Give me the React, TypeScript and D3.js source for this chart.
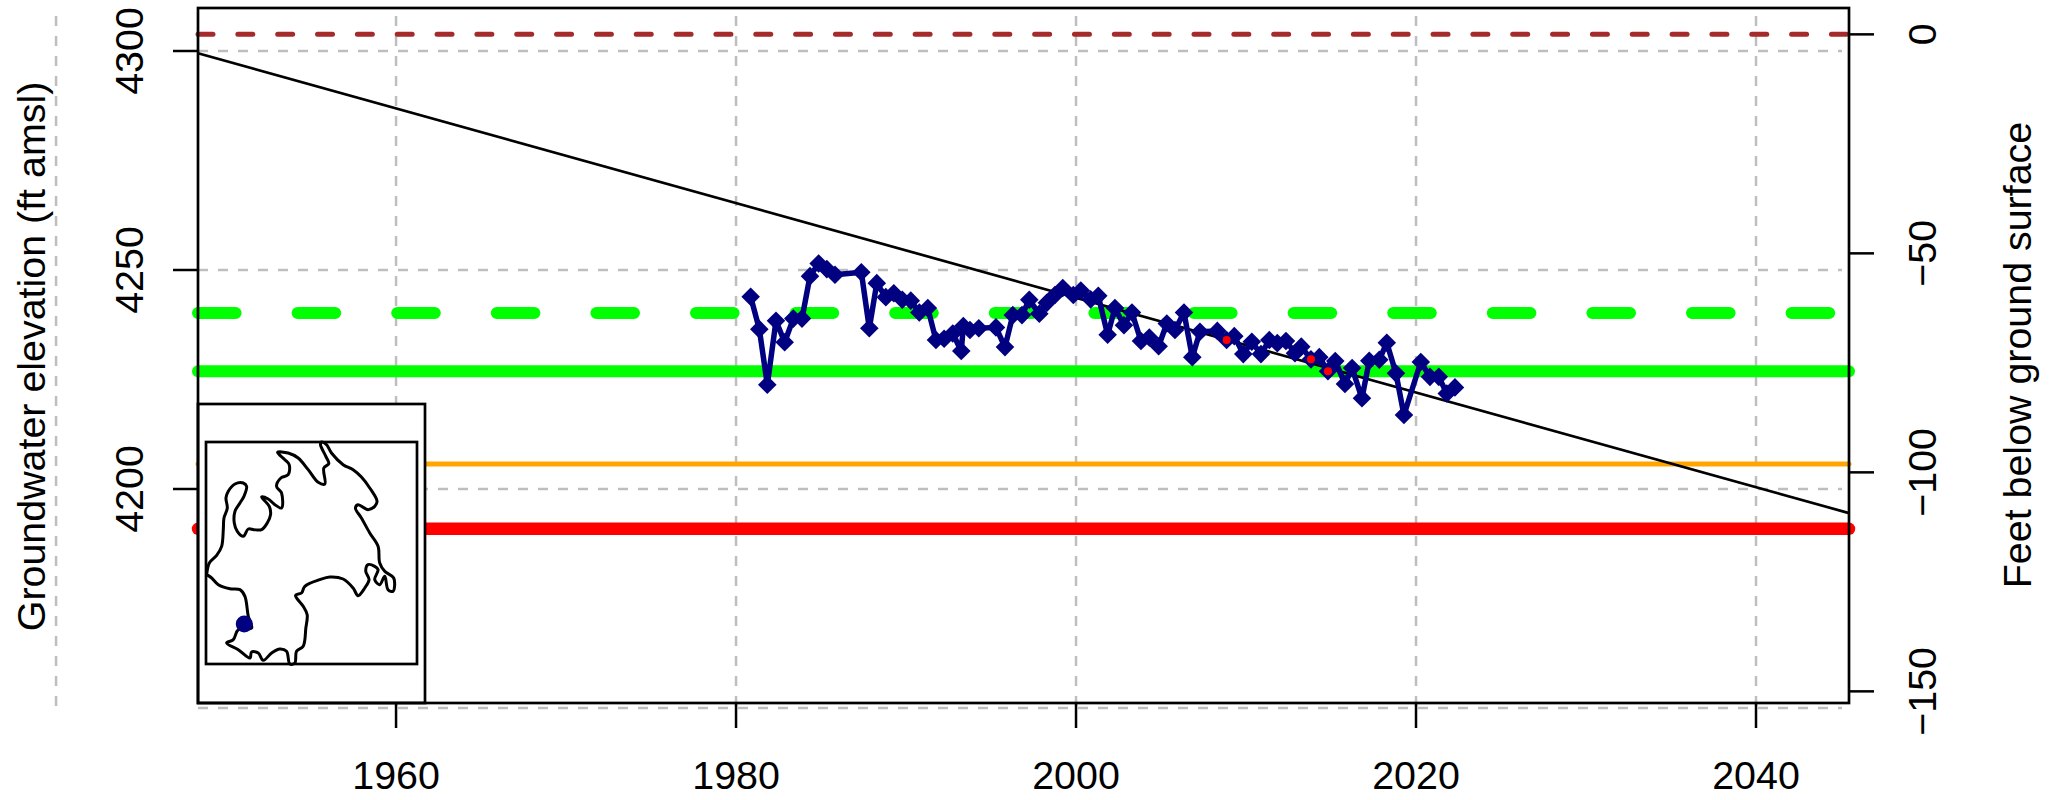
import React, { useEffect, useRef } from 'react';
import * as d3 from 'd3';

const years = [
  1980.86, 1981.37, 1981.84, 1982.35, 1982.86, 1983.37, 1983.88, 1984.35, 1984.86, 1985.34,
  1985.82, 1987.37, 1987.84, 1988.28, 1988.81, 1989.28, 1989.78, 1990.28, 1990.78, 1991.28,
  1991.76, 1992.24, 1992.75, 1993.25, 1993.37, 1993.76, 1994.28, 1995.29, 1995.82, 1996.28,
  1996.82, 1997.25, 1997.84, 1998.28, 1998.76, 1999.22, 1999.84, 2000.28, 2000.86, 2001.31,
  2001.86, 2002.29, 2002.82, 2003.29, 2003.82, 2004.31, 2004.86, 2005.34, 2005.82, 2006.35,
  2006.84, 2007.29, 2008.31, 2008.86, 2009.31, 2009.84, 2010.34, 2010.88, 2011.37, 2011.84,
  2012.35, 2012.88, 2013.25, 2013.82, 2014.31, 2014.82, 2015.25, 2015.82, 2016.24, 2016.82,
  2017.25, 2017.84, 2018.28, 2018.82, 2019.29, 2020.28, 2020.82, 2021.34, 2021.81, 2022.29,
];
const elevations = [
  4243.9, 4236.5, 4223.8, 4238.4, 4233.5, 4238.9, 4238.9, 4248.6, 4251.5, 4250.2,
  4248.9, 4249.5, 4236.7, 4247.0, 4243.8, 4244.7, 4243.2, 4243.0, 4240.3, 4241.3,
  4234.0, 4234.3, 4235.5, 4231.5, 4237.2, 4236.3, 4236.7, 4236.9, 4232.4, 4239.7,
  4239.7, 4243.2, 4240.0, 4242.5, 4244.3, 4245.9, 4244.3, 4245.3, 4243.3, 4244.1,
  4235.2, 4241.3, 4237.4, 4240.3, 4233.8, 4234.6, 4232.6, 4237.8, 4236.3, 4240.3,
  4230.1, 4235.9, 4236.1, 4234.0, 4234.9, 4230.8, 4233.6, 4230.8, 4234.0, 4233.3,
  4233.8, 4231.0, 4232.5, 4229.6, 4230.1, 4226.9, 4229.2, 4224.0, 4227.6, 4220.7,
  4229.3, 4229.5, 4233.4, 4226.4, 4216.9, 4229.0, 4225.6, 4225.6, 4221.8, 4223.2,
];
// points flagged red in the original
const flaggedYears = [2008.86, 2013.82, 2014.82];

const xTicks = [1960, 1980, 2000, 2020, 2040];
const xGrid = [1940, 1960, 1980, 2000, 2020, 2040];
const elevTicks = [4150, 4200, 4250, 4300];
const elevLabels = [4200, 4250, 4300];
const depthTicks = [0, -50, -100, -150];

const landSurface = 4303.8;
const levelRed = 4190.9;
const levelOrange = 4205.7;
const levelGreen = 4226.9;
const levelGreenDash = 4240.2;
const trendYears = [1948.35, 2045.47];
const trendElev = [4299.5, 4194.5];

// inset outline, in map units
const mapOutline: [number, number][] = [
  [80, 555], [88, 520], [110, 497], [125, 470], [130, 420], [132, 385], [142, 355], [138, 325], [145, 305], [165, 283],
  [190, 280], [200, 290], [192, 320], [180, 340], [165, 365], [163, 400], [172, 425], [190, 440], [205, 418], [222, 420],
  [245, 420], [262, 400], [272, 375], [268, 350], [245, 322], [265, 328], [285, 345], [305, 355], [305, 310], [290, 290],
  [303, 265], [325, 255], [328, 225], [315, 210], [293, 188], [325, 190], [355, 205], [385, 240], [415, 278], [435, 283],
  [432, 235], [447, 222], [438, 200], [422, 165], [425, 157], [440, 165], [455, 190], [490, 225], [520, 240], [545, 262],
  [570, 295], [592, 335], [585, 350], [565, 360], [535, 345], [527, 355], [545, 385], [570, 430], [595, 470], [600, 520],
  [615, 545], [642, 565], [640, 605], [625, 600], [615, 560], [600, 585], [585, 570], [595, 540], [585, 530], [565, 525],
  [558, 545], [568, 570], [555, 595], [535, 618], [520, 595], [490, 568], [450, 562], [420, 570], [375, 590], [365, 610],
  [347, 617], [370, 650], [382, 675], [378, 715], [370, 770], [350, 785], [345, 820], [330, 823], [320, 785], [300, 778],
  [275, 790], [250, 812], [235, 790], [215, 787], [210, 805], [175, 780], [140, 760], [160, 750], [175, 720], [215, 715],
  [205, 680], [195, 620], [180, 600], [150, 597], [115, 585], [95, 565], [80, 555],
];
const wellLocation: [number, number] = [193, 703];

const FONT = '"Liberation Sans", Arial, sans-serif';
const FONT_SIZE = 39.4;

export default function App() {
  const ref = useRef<SVGSVGElement>(null);

  useEffect(() => {
    const svg = d3.select(ref.current);
    svg.selectAll('*').remove();

    const left = 198, right = 1849, top = 8, bottom = 703;
    const x = d3.scaleLinear().domain([1948.35, 2045.47]).range([left, right]);
    const y = d3.scaleLinear().domain([4300, 4250]).range([51, 270]);
    const yDepth = d3.scaleLinear().domain([0, -150]).range([y(landSurface), y(landSurface - 150)]);

    // grid runs past the box like the original
    xGrid.forEach((t) => {
      svg.append('line').attr('x1', x(t)).attr('x2', x(t)).attr('y1', 16).attr('y2', bottom + 3)
        .attr('stroke', '#bebebe').attr('stroke-width', 2.5).attr('stroke-dasharray', '10 10');
    });
    elevTicks.forEach((t) => {
      svg.append('line').attr('x1', left).attr('x2', 1842).attr('y1', y(t)).attr('y2', y(t))
        .attr('stroke', '#bebebe').attr('stroke-width', 2.5).attr('stroke-dasharray', '10 10');
    });

    const hline = (elev: number, color: string, width: number, dash?: string) => {
      svg.append('line').attr('x1', left).attr('x2', right).attr('y1', y(elev)).attr('y2', y(elev))
        .attr('stroke', color).attr('stroke-width', width).attr('stroke-linecap', 'round')
        .attr('stroke-dasharray', dash ?? null);
    };
    hline(landSurface, '#a52a2a', 5, '15 24.84');
    hline(levelRed, '#ff0000', 12.5);
    hline(levelOrange, '#ffa500', 5);
    hline(levelGreen, '#00ff00', 12);
    hline(levelGreenDash, '#00ff00', 12, '37.6 62');

    const trend = d3.line<number>().x((d) => x(d)).y((_, i) => y(trendElev[i]));
    svg.append('path').attr('d', trend(trendYears)).attr('fill', 'none')
      .attr('stroke', 'black').attr('stroke-width', 2.7);

    const series = d3.line<number>().x((d) => x(d)).y((_, i) => y(elevations[i]));
    svg.append('path').attr('d', series(years)).attr('fill', 'none')
      .attr('stroke', '#000080').attr('stroke-width', 5.5).attr('stroke-linejoin', 'round');

    const diamond = d3.symbol().type(d3.symbolDiamond2).size(220);
    svg.append('g').selectAll('path').data(years).enter().append('path')
      .attr('d', diamond())
      .attr('transform', (d, i) => `translate(${x(d)},${y(elevations[i])})`)
      .attr('fill', '#000080');

    svg.append('g').selectAll('circle').data(flaggedYears).enter().append('circle')
      .attr('cx', (d) => x(d))
      .attr('cy', (d) => y(elevations[years.indexOf(d)]))
      .attr('r', 4)
      .attr('fill', '#ff0000');

    // inset map
    svg.append('rect').attr('x', left).attr('y', 404).attr('width', 227).attr('height', bottom - 404)
      .attr('fill', 'white').attr('stroke', 'black').attr('stroke-width', 2.7);
    svg.append('rect').attr('x', 206).attr('y', 442).attr('width', 211).attr('height', 222)
      .attr('fill', 'white').attr('stroke', 'black').attr('stroke-width', 2.7);
    const mapX = d3.scaleLinear().domain([78, 712]).range([206, 417]);
    const mapY = d3.scaleLinear().domain([157, 823]).range([442, 664]);
    const outline = d3.line<[number, number]>().x((d) => mapX(d[0])).y((d) => mapY(d[1])).curve(d3.curveCatmullRom);
    svg.append('path').attr('d', outline(mapOutline)).attr('fill', 'none')
      .attr('stroke', 'black').attr('stroke-width', 3);
    svg.append('circle').attr('cx', mapX(wellLocation[0])).attr('cy', mapY(wellLocation[1])).attr('r', 8.5)
      .attr('fill', '#000080');

    svg.append('rect').attr('x', left).attr('y', top).attr('width', right - left).attr('height', bottom - top)
      .attr('fill', 'none').attr('stroke', 'black').attr('stroke-width', 2.7);

    // axes
    const styleAxis = (g: any) => {
      g.select('.domain').remove();
      g.selectAll('line').attr('stroke', 'black').attr('stroke-width', 2.5);
      g.selectAll('text').attr('fill', 'black');
      g.attr('font-family', FONT).attr('font-size', FONT_SIZE);
    };

    const xAxis = svg.append('g').attr('transform', `translate(0,${bottom})`)
      .call(d3.axisBottom(x).tickValues(xTicks).tickSize(25).tickPadding(33).tickFormat(d3.format('d')).offset(0) as any);
    styleAxis(xAxis);

    const yAxis = svg.append('g').attr('transform', `translate(${left},0)`)
      .call(d3.axisLeft(y).tickValues(elevLabels).tickSize(25).tickFormat(d3.format('d')).offset(0) as any);
    styleAxis(yAxis);
    yAxis.selectAll('text').attr('x', null).attr('dy', null).attr('text-anchor', 'middle')
      .attr('transform', 'translate(-55.5,0) rotate(-90)');

    const depthAxis = svg.append('g').attr('transform', `translate(${right},0)`)
      .call(d3.axisRight(yDepth).tickValues(depthTicks).tickSize(25)
        .tickFormat((d: any) => (d < 0 ? `\u2212${-d}` : `${d}`)).offset(0) as any);
    styleAxis(depthAxis);
    depthAxis.selectAll('text').attr('x', null).attr('dy', null).attr('text-anchor', 'middle')
      .attr('transform', 'translate(86.5,0) rotate(-90)');

    const axisTitle = (label: string, tx: number, ty: number) => {
      svg.append('text').attr('transform', `translate(${tx},${ty}) rotate(-90)`)
        .attr('text-anchor', 'middle').attr('font-family', FONT).attr('font-size', FONT_SIZE)
        .attr('fill', 'black').text(label);
    };
    axisTitle('Groundwater elevation (ft amsl)', 45, 356.5);
    axisTitle('Feet below ground surface', 2031, 355);
  }, []);

  return (
    <svg
      ref={ref}
      width={2056}
      height={800}
      style={{ position: 'absolute', left: 0, top: 0, display: 'block', background: 'white' }}
    />
  );
}
